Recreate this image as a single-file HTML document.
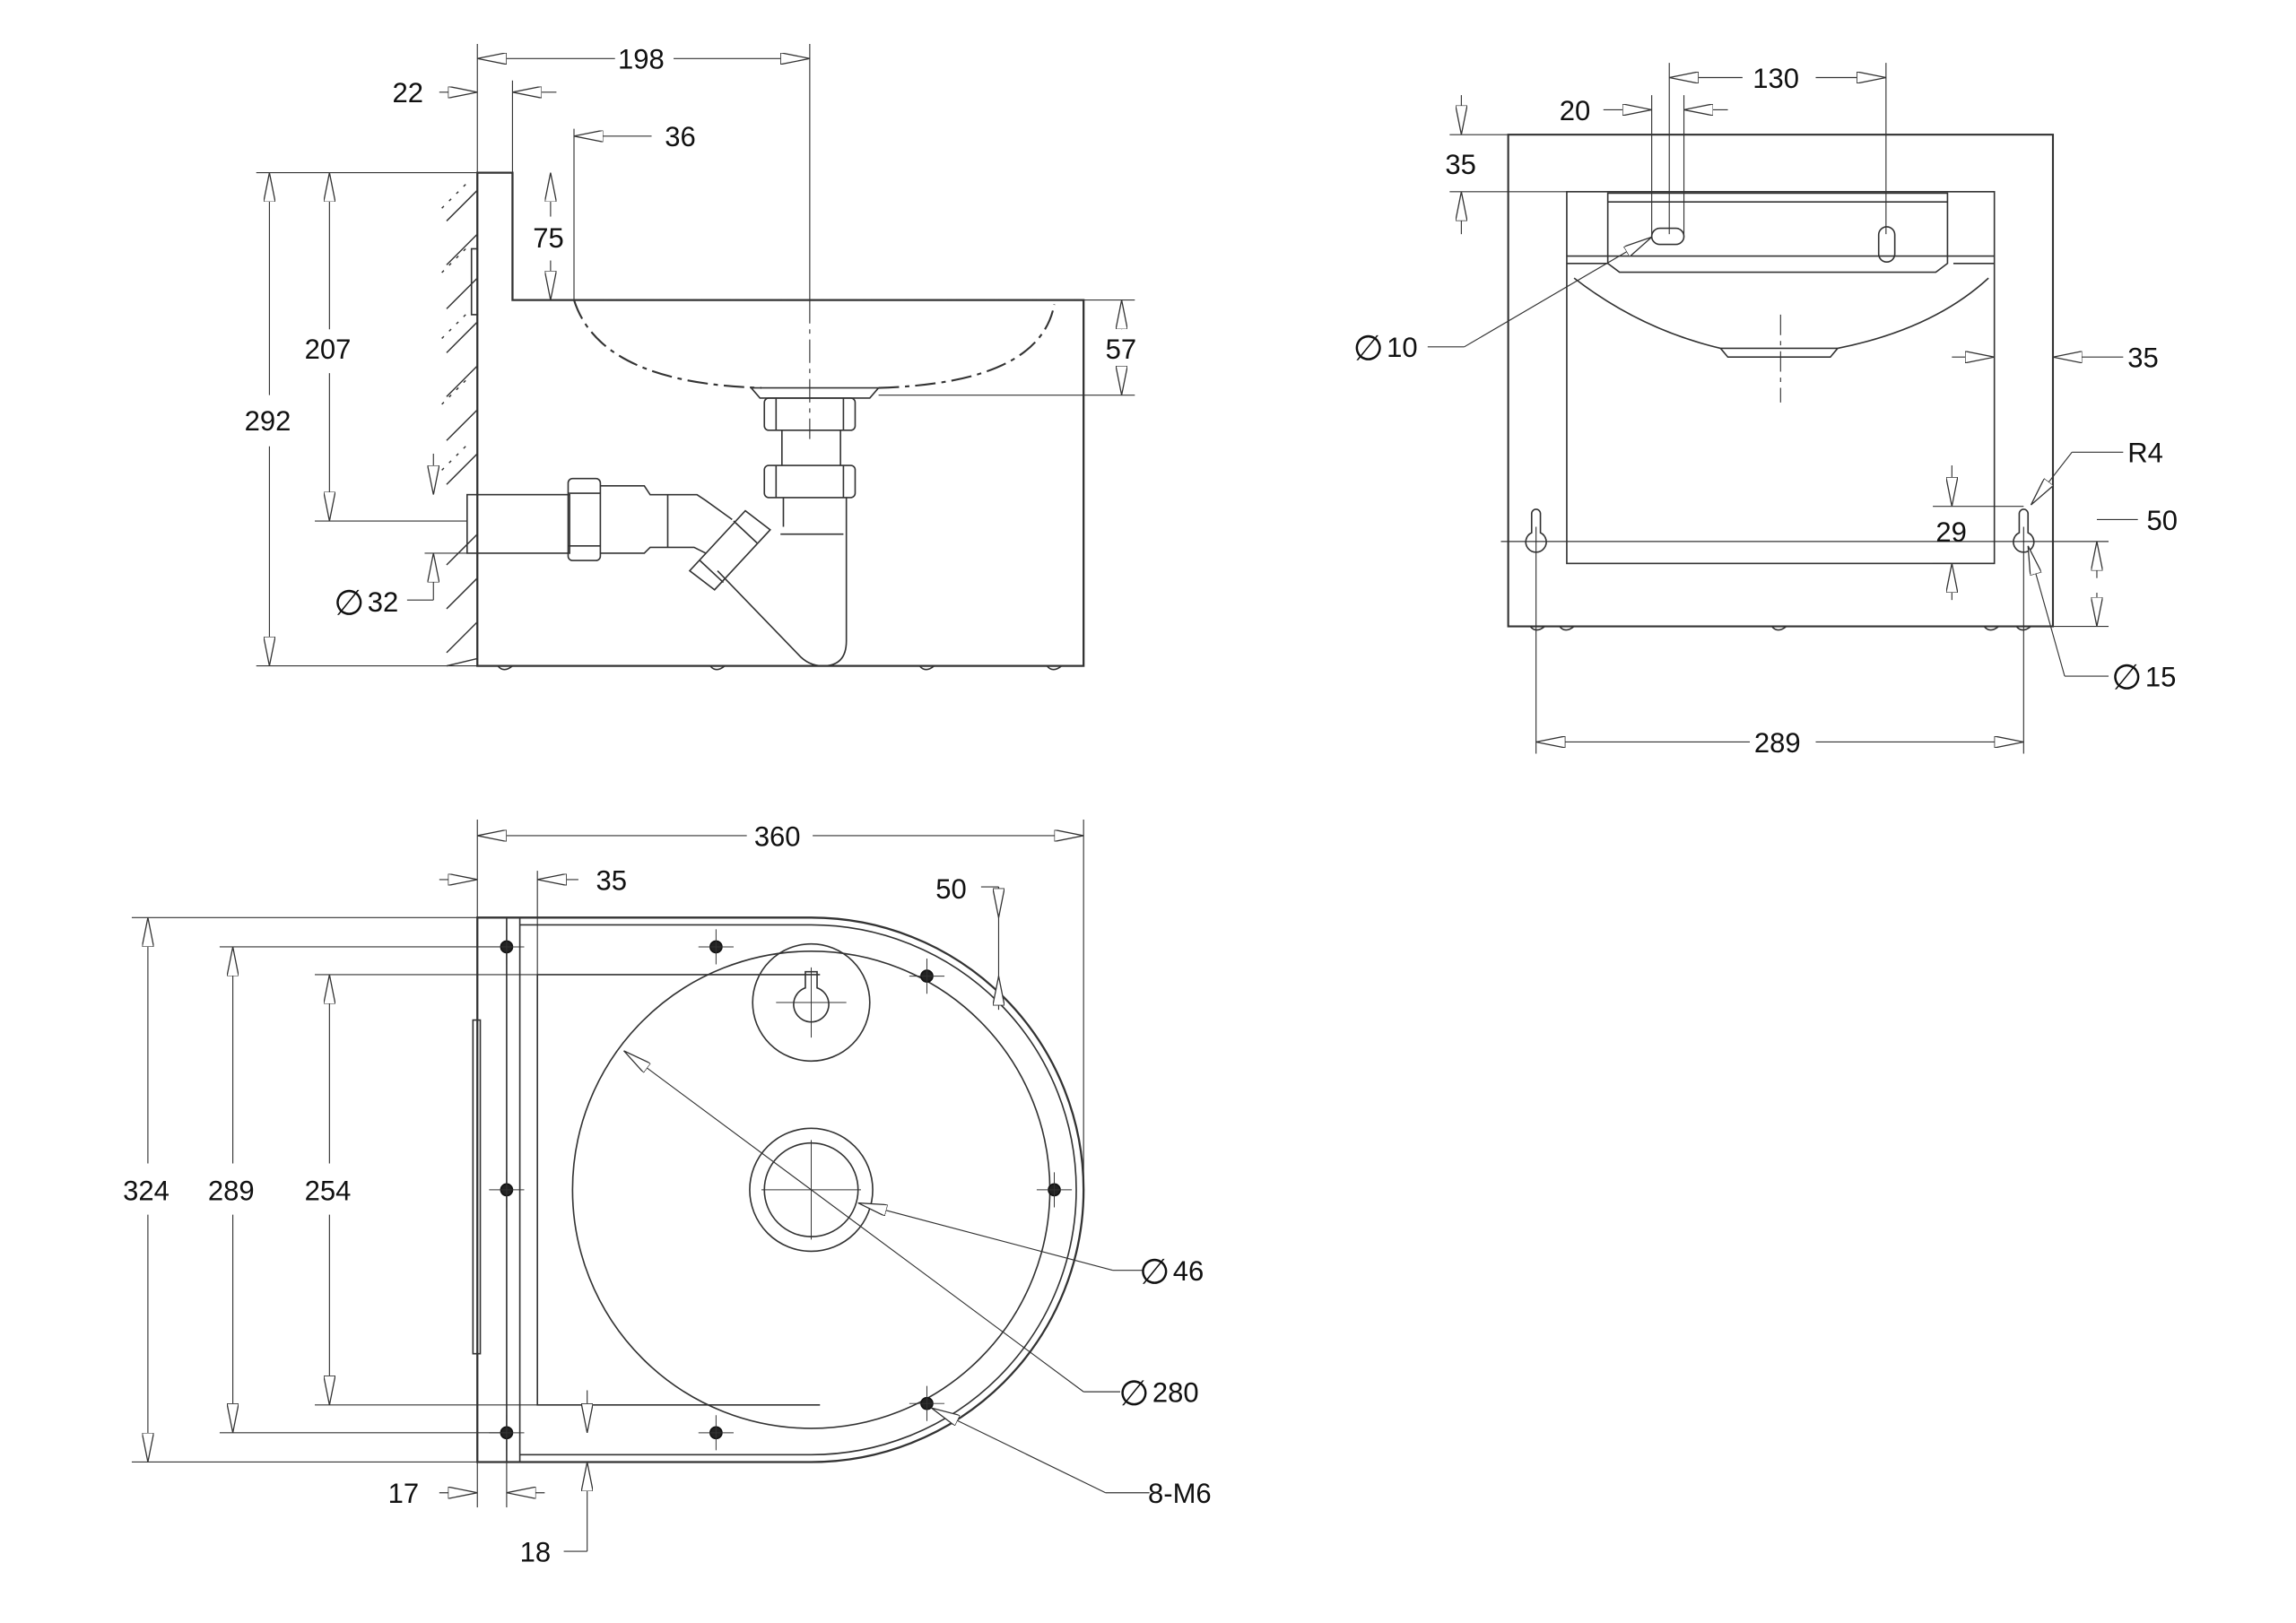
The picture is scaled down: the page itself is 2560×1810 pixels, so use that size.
<!DOCTYPE html>
<html><head><meta charset="utf-8"><style>
html,body{margin:0;padding:0;background:#fff;}
svg{display:block;}
text{font-family:"Liberation Sans",sans-serif;font-size:19px;fill:#111;}
text.d{font-family:"DejaVu Sans",sans-serif;font-size:24px;}
</style></head><body>
<svg width="2560" height="1810" viewBox="0 0 1568 1109" preserveAspectRatio="none" xmlns="http://www.w3.org/2000/svg">
<defs>
<marker id="a" viewBox="0 0 20 8" refX="20" refY="4" markerWidth="20" markerHeight="8" orient="auto" markerUnits="userSpaceOnUse">
<path d="M0,0 L20,4 L0,8 Z" fill="#fff" stroke="#333" stroke-width="0.8"/></marker>
</defs>
<rect width="1568" height="1109" fill="#fff"/>
<g fill="none" stroke="#333" stroke-width="1">
<!-- ===== SIDE VIEW ===== -->
<path d="M326,118 L350,118 L350,205 L740,205 L740,455 L326,455 Z" stroke-width="1.4"/>
<g stroke-width="0.9">
<path d="M326,130 L305,151 M326,160 L305,181 M326,190 L305,211 M326,220 L305,241 M326,250 L305,271 M326,280 L305,301 M326,310 L305,331 M326,365 L305,386 M326,395 L305,416 M326,425 L305,446 M326,450 L305,455"/>
<path d="M318,126 L300,144 M318,170 L300,188 M318,215 L300,233 M318,260 L300,278 M318,305 L300,323" stroke-dasharray="2,5"/>
</g>
<rect x="322" y="170" width="4" height="45"/>
<path d="M392,205 Q410,262 520,265 M600,265 Q710,262 720,208" stroke-dasharray="14,4,3,4" stroke-width="1.3"/>
<path d="M392,205 L740,205" stroke-dasharray="20,3,3,3"/>
<line x1="553" y1="205" x2="553" y2="300" stroke-dasharray="16,4,3,4" stroke-width="0.7"/>
<path d="M513,265 L600,265 L594,272 L519,272 Z"/>
<rect x="522" y="272" width="62" height="22" rx="3"/>
<line x1="530" y1="272" x2="530" y2="294"/><line x1="576" y1="272" x2="576" y2="294"/>
<line x1="534" y1="294" x2="534" y2="318"/><line x1="574" y1="294" x2="574" y2="318"/>
<rect x="522" y="318" width="62" height="22" rx="3"/>
<line x1="530" y1="318" x2="530" y2="340"/><line x1="576" y1="318" x2="576" y2="340"/>
<path d="M535,340 L535,360 M578,340 L578,438 Q578,455 562,455 Q552,455 545,447 L490,390"/>
<line x1="533" y1="365" x2="576" y2="365"/>
<rect x="319" y="338" width="70" height="40"/>
<rect x="388" y="327" width="22" height="56" rx="3"/>
<line x1="388" y1="337" x2="410" y2="337"/><line x1="388" y1="373" x2="410" y2="373"/>
<path d="M410,332 L440,332 L444,338 L476,338 L482,342 L500,355 M410,378 L440,378 L444,374 L474,374 L482,378"/>
<line x1="456" y1="338" x2="456" y2="374"/>
<path d="M471,390 L509,349 L526,362 L488,403 Z"/>
<line x1="478" y1="383" x2="494" y2="398"/><line x1="501" y1="356" x2="517" y2="371"/>
<path d="M340,455 q4,5 10,0 M485,455 q4,5 10,0 M628,455 q4,5 10,0 M715,455 q4,5 10,0"/>
<g stroke-width="0.7">
<line x1="326" y1="30" x2="326" y2="118"/><line x1="553" y1="30" x2="553" y2="205"/>
<line x1="350" y1="55" x2="350" y2="118"/><line x1="392" y1="88" x2="392" y2="205"/>
<line x1="175" y1="118" x2="326" y2="118"/><line x1="175" y1="455" x2="326" y2="455"/>
<line x1="215" y1="356" x2="319" y2="356"/><line x1="290" y1="378" x2="319" y2="378"/>
<line x1="740" y1="205" x2="775" y2="205"/><line x1="600" y1="270" x2="775" y2="270"/>
</g>
<g stroke-width="0.7">
<line x1="420" y1="40" x2="326" y2="40" marker-end="url(#a)"/><line x1="460" y1="40" x2="553" y2="40" marker-end="url(#a)"/>
<line x1="300" y1="63" x2="326" y2="63" marker-end="url(#a)"/><line x1="380" y1="63" x2="350" y2="63" marker-end="url(#a)"/>
<line x1="445" y1="93" x2="392" y2="93" marker-end="url(#a)"/>
<line x1="184" y1="270" x2="184" y2="118" marker-end="url(#a)"/><line x1="184" y1="305" x2="184" y2="455" marker-end="url(#a)"/>
<line x1="225" y1="225" x2="225" y2="118" marker-end="url(#a)"/><line x1="225" y1="255" x2="225" y2="356" marker-end="url(#a)"/>
<line x1="376" y1="148" x2="376" y2="118" marker-end="url(#a)"/><line x1="376" y1="178" x2="376" y2="205" marker-end="url(#a)"/>
<line x1="766" y1="225" x2="766" y2="205" marker-end="url(#a)"/><line x1="766" y1="250" x2="766" y2="270" marker-end="url(#a)"/>
<line x1="296" y1="310" x2="296" y2="338" marker-end="url(#a)"/><line x1="296" y1="410" x2="296" y2="378" marker-end="url(#a)"/>
<line x1="278" y1="410" x2="296" y2="410"/>
</g>
<!-- ===== FRONT VIEW ===== -->
<rect x="1030" y="92" width="372" height="336" stroke-width="1.3"/>
<rect x="1070" y="131" width="292" height="254"/>
<path d="M1070,180 L1098,180 M1334,180 L1362,180 M1070,175 L1362,175"/>
<path d="M1098,132 L1330,132 L1330,180 L1322,186 L1106,186 L1098,180 Z"/>
<line x1="1098" y1="138" x2="1330" y2="138"/>
<path d="M1075,190 Q1120,225 1175,238 L1255,238 Q1320,225 1358,190"/>
<path d="M1175,238 L1180,244 L1250,244 L1255,238"/>
<rect x="1128" y="156" width="22" height="11" rx="5.5"/>
<rect x="1283" y="155" width="11" height="24" rx="5.5"/>
<line x1="1216" y1="215" x2="1216" y2="275" stroke-dasharray="14,4,3,4" stroke-width="0.7"/>
<path d="M1046,364 L1046,351 a3,3 0 0 1 6,0 L1052,364 A7,7 0 1 1 1046,364 Z"/>
<path d="M1379,364 L1379,351 a3,3 0 0 1 6,0 L1385,364 A7,7 0 1 1 1379,364 Z"/>
<path d="M1045,428 q4,5 10,0 M1065,428 q4,5 10,0 M1210,428 q4,5 10,0 M1355,428 q4,5 10,0 M1377,428 q4,5 10,0"/>
<g stroke-width="0.7">
<line x1="1140" y1="43" x2="1140" y2="160"/><line x1="1288" y1="43" x2="1288" y2="160"/>
<line x1="1128" y1="65" x2="1128" y2="160"/><line x1="1150" y1="65" x2="1150" y2="160"/>
<line x1="990" y1="92" x2="1030" y2="92"/><line x1="990" y1="131" x2="1070" y2="131"/>
<line x1="1049" y1="360" x2="1049" y2="515"/><line x1="1382" y1="360" x2="1382" y2="515"/>
<line x1="1320" y1="346" x2="1382" y2="346"/><line x1="1320" y1="385" x2="1362" y2="385"/>
<line x1="1025" y1="370" x2="1440" y2="370"/><line x1="1402" y1="428" x2="1440" y2="428"/>
<line x1="1190" y1="53" x2="1140" y2="53" marker-end="url(#a)"/><line x1="1240" y1="53" x2="1288" y2="53" marker-end="url(#a)"/>
<line x1="1095" y1="75" x2="1128" y2="75" marker-end="url(#a)"/><line x1="1180" y1="75" x2="1150" y2="75" marker-end="url(#a)"/>
<line x1="998" y1="65" x2="998" y2="92" marker-end="url(#a)"/><line x1="998" y1="160" x2="998" y2="131" marker-end="url(#a)"/>
<line x1="1333" y1="244" x2="1362" y2="244" marker-end="url(#a)"/><line x1="1450" y1="244" x2="1402" y2="244" marker-end="url(#a)"/>
<line x1="1333" y1="318" x2="1333" y2="346" marker-end="url(#a)"/><line x1="1333" y1="410" x2="1333" y2="385" marker-end="url(#a)"/>
<line x1="1432" y1="395" x2="1432" y2="370" marker-end="url(#a)"/><line x1="1432" y1="405" x2="1432" y2="428" marker-end="url(#a)"/>
<line x1="1432" y1="355" x2="1460" y2="355"/>
<line x1="1195" y1="507" x2="1049" y2="507" marker-end="url(#a)"/><line x1="1240" y1="507" x2="1382" y2="507" marker-end="url(#a)"/>
<line x1="975" y1="237" x2="1000" y2="237"/><line x1="1000" y1="237" x2="1128" y2="162" marker-end="url(#a)"/>
<line x1="1450" y1="309" x2="1415" y2="309"/><line x1="1415" y1="309" x2="1387" y2="345" marker-end="url(#a)"/>
<line x1="1440" y1="462" x2="1410" y2="462"/><line x1="1410" y1="462" x2="1385" y2="373" marker-end="url(#a)"/>
</g>
<!-- ===== PLAN VIEW ===== -->
<path d="M326,627 L554,627 A186,186 0 0 1 554,999 L326,999 Z" stroke-width="1.4"/>
<path d="M355,632 L554,632 A181,181 0 0 1 554,994 L355,994"/>
<line x1="346" y1="627" x2="346" y2="999"/><line x1="355" y1="627" x2="355" y2="999"/>
<rect x="323" y="697" width="5" height="228"/>
<path d="M367,666 L560,666 M367,666 L367,960 L560,960"/>
<circle cx="554" cy="813" r="163"/>
<circle cx="554" cy="813" r="42"/><circle cx="554" cy="813" r="32"/>
<circle cx="554" cy="685" r="40"/>
<path d="M550,664 L550,675 A12,12 0 1 0 558,675 L558,664 Z"/>
<g stroke-width="0.6"><line x1="520" y1="813" x2="588" y2="813"/><line x1="554" y1="779" x2="554" y2="847"/>
<line x1="530" y1="685" x2="578" y2="685"/><line x1="554" y1="661" x2="554" y2="709"/></g>
<g fill="#222" stroke="#111">
<circle cx="346" cy="647" r="4"/><circle cx="489" cy="647" r="4"/><circle cx="633" cy="667" r="4"/><circle cx="720" cy="813" r="4"/>
<circle cx="346" cy="813" r="4"/><circle cx="346" cy="979" r="4"/><circle cx="489" cy="979" r="4"/><circle cx="633" cy="959" r="4"/>
</g>
<g stroke-width="0.6">
<path d="M334,647 h24 M477,647 h24 M621,667 h24 M708,813 h24 M334,813 h24 M334,979 h24 M477,979 h24 M621,959 h24"/>
<path d="M346,635 v24 M489,635 v24 M633,655 v24 M720,801 v24 M346,801 v24 M346,967 v24 M489,967 v24 M633,947 v24"/>
</g>
<g stroke-width="0.7">
<line x1="326" y1="560" x2="326" y2="627"/><line x1="740" y1="560" x2="740" y2="813"/>
<line x1="367" y1="595" x2="367" y2="666"/>
<line x1="90" y1="627" x2="326" y2="627"/><line x1="90" y1="999" x2="326" y2="999"/>
<line x1="150" y1="647" x2="346" y2="647"/><line x1="150" y1="979" x2="346" y2="979"/>
<line x1="215" y1="666" x2="367" y2="666"/><line x1="215" y1="960" x2="367" y2="960"/>
<line x1="510" y1="571" x2="326" y2="571" marker-end="url(#a)"/><line x1="555" y1="571" x2="740" y2="571" marker-end="url(#a)"/>
<line x1="300" y1="601" x2="326" y2="601" marker-end="url(#a)"/><line x1="395" y1="601" x2="367" y2="601" marker-end="url(#a)"/>
<line x1="670" y1="606" x2="682" y2="606"/><line x1="682" y1="606" x2="682" y2="685"/>
<line x1="682" y1="606" x2="682" y2="627" marker-end="url(#a)"/><line x1="682" y1="690" x2="682" y2="667" marker-end="url(#a)"/>
<line x1="101" y1="795" x2="101" y2="627" marker-end="url(#a)"/><line x1="101" y1="830" x2="101" y2="999" marker-end="url(#a)"/>
<line x1="159" y1="795" x2="159" y2="647" marker-end="url(#a)"/><line x1="159" y1="830" x2="159" y2="979" marker-end="url(#a)"/>
<line x1="225" y1="795" x2="225" y2="666" marker-end="url(#a)"/><line x1="225" y1="830" x2="225" y2="960" marker-end="url(#a)"/>
<line x1="401" y1="950" x2="401" y2="979" marker-end="url(#a)"/>
<line x1="300" y1="1020" x2="326" y2="1020" marker-end="url(#a)"/><line x1="372" y1="1020" x2="346" y2="1020" marker-end="url(#a)"/>
<line x1="326" y1="999" x2="326" y2="1030"/><line x1="346" y1="999" x2="346" y2="1030"/>
<line x1="401" y1="1060" x2="401" y2="999" marker-end="url(#a)"/><line x1="385" y1="1060" x2="401" y2="1060"/>
<line x1="780" y1="868" x2="760" y2="868"/><line x1="760" y1="868" x2="586" y2="822" marker-end="url(#a)"/>
<line x1="765" y1="951" x2="740" y2="951"/><line x1="740" y1="951" x2="426" y2="718" marker-end="url(#a)"/>
<line x1="785" y1="1020" x2="755" y2="1020"/><line x1="755" y1="1020" x2="636" y2="962" marker-end="url(#a)"/>
</g>
</g>
<text x="422" y="47">198</text>
<text x="268" y="70">22</text>
<text x="454" y="100">36</text>
<text x="208" y="245">207</text>
<text x="167" y="294">292</text>
<text x="364" y="169">75</text>
<text x="755" y="245">57</text>
<text class="d" x="228" y="420">∅</text><text x="251" y="418">32</text>
<text x="1197" y="60">130</text>
<text x="1065" y="82">20</text>
<text x="987" y="119">35</text>
<text class="d" x="924" y="246">∅</text><text x="947" y="244">10</text>
<text x="1453" y="251">35</text>
<text x="1453" y="316">R4</text>
<text x="1322" y="370">29</text>
<text x="1466" y="362">50</text>
<text class="d" x="1442" y="471">∅</text><text x="1465" y="469">15</text>
<text x="1198" y="514">289</text>
<text x="515" y="578">360</text>
<text x="407" y="608">35</text>
<text x="639" y="614">50</text>
<text x="84" y="820">324</text>
<text x="142" y="820">289</text>
<text x="208" y="820">254</text>
<text class="d" x="778" y="877">∅</text><text x="801" y="875">46</text>
<text class="d" x="764" y="960">∅</text><text x="787" y="958">280</text>
<text x="784" y="1027">8-M6</text>
<text x="265" y="1027">17</text>
<text x="355" y="1067">18</text>
</svg>
</body></html>
